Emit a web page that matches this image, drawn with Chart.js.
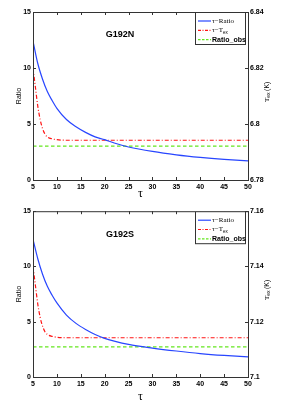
<!DOCTYPE html>
<html>
<head>
<meta charset="utf-8">
<script src="https://cdn.jsdelivr.net/npm/chart.js@4"></script>
<style>
  body { margin: 0; background: #fff; }
  .box { width: 290px; height: 205px; position: relative; }
</style>
</head>
<body>
<div class="box"><canvas id="chartN"></canvas></div>
<div class="box"><canvas id="chartS"></canvas></div>
<script>
// tau grid for the ratio curves
const tauRatio = [5, 6, 7, 8, 9, 10, 12, 14, 16, 18, 20, 22, 25, 30, 35, 40, 45, 50];
const ratioN = [12.4, 10.4, 9.0, 7.9, 7.1, 6.4, 5.4, 4.75, 4.25, 3.85, 3.6, 3.3, 2.95, 2.55, 2.25, 2.02, 1.84, 1.70];
const ratioS = [12.45, 10.7, 9.3, 8.2, 7.4, 6.7, 5.6, 4.85, 4.3, 3.85, 3.5, 3.25, 2.95, 2.62, 2.35, 2.12, 1.95, 1.82];

// tau grid for the Tex curves
const tauTex = [5, 5.5, 6, 6.5, 7, 7.5, 8, 9, 10, 12, 15, 20, 30, 40, 50];
const texN = [6.820, 6.8132, 6.8064, 6.8016, 6.7984, 6.7964, 6.7954, 6.7947, 6.7944, 6.7942, 6.7942, 6.7942, 6.7942, 6.7942, 6.7942];
const texS = [7.140, 7.1332, 7.1264, 7.1216, 7.1184, 7.1164, 7.1154, 7.1147, 7.1144, 7.1142, 7.1142, 7.1142, 7.1142, 7.1142, 7.1142];

// observed ratio
const tauObs = [5, 50];
const obsN = 3.03;
const obsS = 2.73;

const xTicks = [5, 10, 15, 20, 25, 30, 35, 40, 45, 50];
const ratioTicks = [0, 5, 10, 15];
const texTicksN = [6.78, 6.80, 6.82, 6.84];
const texTicksS = [7.10, 7.12, 7.14, 7.16];

const BLUE = 'rgb(40,70,255)';
const RED = 'rgb(255,20,20)';
const GREEN = 'rgb(100,230,30)';
const FRAME = '#333';
const tickFont = { family: 'Liberation Sans', size: 7, weight: 'bold' };

function pts(xs, ys) { return xs.map((x, i) => ({ x: x, y: ys[i] })); }

const decor = {
  id: 'decor',
  afterDraw(chart, args, opts) {
    const { ctx, chartArea: a, scales } = chart;
    ctx.save();
    ctx.strokeStyle = FRAME;
    ctx.lineWidth = 1;
    ctx.strokeRect(a.left + 0.5, a.top + 0.5, a.right - a.left, a.bottom - a.top);
    ctx.beginPath();
    scales.x.ticks.forEach(t => {
      const px = Math.round(scales.x.getPixelForValue(t.value)) + 0.5;
      ctx.moveTo(px, a.bottom); ctx.lineTo(px, a.bottom - 3);
      ctx.moveTo(px, a.top); ctx.lineTo(px, a.top + 3);
    });
    scales.y.ticks.forEach(t => {
      const py = Math.round(scales.y.getPixelForValue(t.value)) + 0.5;
      ctx.moveTo(a.left, py); ctx.lineTo(a.left + 3, py);
    });
    scales.y1.ticks.forEach(t => {
      const py = Math.round(scales.y1.getPixelForValue(t.value)) + 0.5;
      ctx.moveTo(a.right, py); ctx.lineTo(a.right - 3, py);
    });
    ctx.stroke();

    const midY = (a.top + a.bottom) / 2;
    ctx.fillStyle = '#000';
    // left label
    ctx.save();
    ctx.translate(19, midY);
    ctx.rotate(-Math.PI / 2);
    ctx.font = '7px "Liberation Sans"';
    ctx.textAlign = 'center'; ctx.textBaseline = 'middle';
    ctx.fillText('Ratio', 0, 0);
    ctx.restore();
    // right label T_ex (K)
    ctx.save();
    ctx.translate(267, midY + 6);
    ctx.rotate(-Math.PI / 2);
    ctx.textBaseline = 'middle'; ctx.textAlign = 'left';
    ctx.font = '7px "Liberation Serif"';
    ctx.fillText('T', 0, 0);
    let w = ctx.measureText('T').width;
    ctx.font = '5px "Liberation Sans"';
    ctx.fillText('ex', w, 2);
    w += ctx.measureText('ex').width + 1.5;
    ctx.font = '7px "Liberation Sans"';
    ctx.fillText('(K)', w, 0);
    ctx.restore();
    // x label tau
    ctx.font = '12px "Liberation Serif"';
    ctx.textAlign = 'center'; ctx.textBaseline = 'middle';
    ctx.fillText('\u03c4', (a.left + a.right) / 2, opts.tauY);
    // panel title
    ctx.font = 'bold 9px "Liberation Sans"';
    ctx.fillText(opts.title, 120, a.top + opts.titleDy);

    // legend box
    const lw = 50, lh = 32;
    const lx = a.right - 3 - lw, ly = a.top;
    ctx.fillStyle = '#fff';
    ctx.fillRect(lx, ly, lw, lh);
    ctx.strokeStyle = FRAME;
    ctx.strokeRect(lx + 0.5, ly + 0.5, lw, lh);
    const rows = [
      { color: BLUE, dash: [], text: 'ratio' },
      { color: RED, dash: [3, 1.5, 1, 1.5], text: 'tex' },
      { color: GREEN, dash: [2.5, 1.5], text: 'obs' }
    ];
    rows.forEach((r, i) => {
      const yy = ly + 9 + i * 9.3;
      ctx.beginPath();
      ctx.setLineDash(r.dash);
      ctx.strokeStyle = r.color;
      ctx.lineWidth = 1.2;
      ctx.moveTo(lx + 3, yy); ctx.lineTo(lx + 16, yy);
      ctx.stroke();
      ctx.setLineDash([]);
      ctx.fillStyle = '#000';
      ctx.textAlign = 'left'; ctx.textBaseline = 'middle';
      const tx = lx + 17;
      if (r.text === 'ratio') {
        ctx.font = '7px "Liberation Serif"';
        ctx.fillText('\u03c4\u2212Ratio', tx, yy);
      } else if (r.text === 'tex') {
        ctx.font = '7px "Liberation Serif"';
        ctx.fillText('\u03c4\u2212T', tx, yy);
        const tw = ctx.measureText('\u03c4\u2212T').width;
        ctx.font = '4.5px "Liberation Sans"';
        ctx.fillText('ex', tx + tw, yy + 2);
      } else {
        ctx.font = 'bold 7px "Liberation Sans"';
        ctx.fillText('Ratio_obs', tx, yy);
      }
    });
    ctx.restore();
  }
};

function makeChart(id, ratio, tex, obs, texTicks, opts) {
  const ctx = document.getElementById(id).getContext('2d');
  return new Chart(ctx, {
    type: 'line',
    data: {
      datasets: [{
        label: '\u03c4-Ratio',
        data: pts(tauRatio, ratio),
        borderColor: BLUE,
        borderWidth: 1.2,
        cubicInterpolationMode: 'monotone',
        pointRadius: 0,
        yAxisID: 'y'
      }, {
        label: '\u03c4-Tex',
        data: pts(tauTex, tex),
        borderColor: RED,
        borderWidth: 1.2,
        borderDash: [4, 2, 1, 2],
        cubicInterpolationMode: 'monotone',
        pointRadius: 0,
        yAxisID: 'y1'
      }, {
        label: 'Ratio_obs',
        data: pts(tauObs, [obs, obs]),
        borderColor: GREEN,
        borderWidth: 1.2,
        borderDash: [3.5, 2.5],
        pointRadius: 0,
        yAxisID: 'y'
      }]
    },
    options: {
      responsive: false,
      animation: false,
      layout: { padding: { top: opts.padTop, left: 0, right: 0, bottom: 0 } },
      plugins: { legend: { display: false }, tooltip: { enabled: false }, decor: opts },
      scales: {
        x: {
          type: 'linear', min: 5, max: 50,
          afterBuildTicks: s => { s.ticks = xTicks.map(v => ({ value: v })); },
          afterFit: s => { s.height = opts.xHeight; },
          grid: { display: false, drawTicks: false },
          border: { display: false },
          ticks: { font: tickFont, color: '#000', padding: 3, maxRotation: 0 }
        },
        y: {
          position: 'left', min: 0, max: 15,
          afterBuildTicks: s => { s.ticks = ratioTicks.map(v => ({ value: v })); },
          afterFit: s => { s.width = 33; },
          grid: { display: false, drawTicks: false },
          border: { display: false },
          ticks: { font: tickFont, color: '#000', padding: 2 }
        },
        y1: {
          position: 'right', min: texTicks[0], max: texTicks[3],
          afterBuildTicks: s => { s.ticks = texTicks.map(v => ({ value: v })); },
          afterFit: s => { s.width = 42; },
          grid: { display: false, drawTicks: false },
          border: { display: false },
          ticks: { font: tickFont, color: '#000', padding: 2,
            callback: v => String(parseFloat(v.toFixed(2))) }
        }
      }
    },
    plugins: [decor]
  });
}

function sizeCanvas(id) {
  const c = document.getElementById(id);
  c.width = 290; c.height = 205;
  c.style.width = '290px'; c.style.height = '205px';
}
sizeCanvas('chartN');
sizeCanvas('chartS');

makeChart('chartN', ratioN, texN, obsN, texTicksN,
  { title: 'G192N', padTop: 12, xHeight: 25, tauY: 194, titleDy: 23 });
makeChart('chartS', ratioS, texS, obsS, texTicksS,
  { title: 'G192S', padTop: 4, xHeight: 33, tauY: 192, titleDy: 23 });
</script>
</body>
</html>
